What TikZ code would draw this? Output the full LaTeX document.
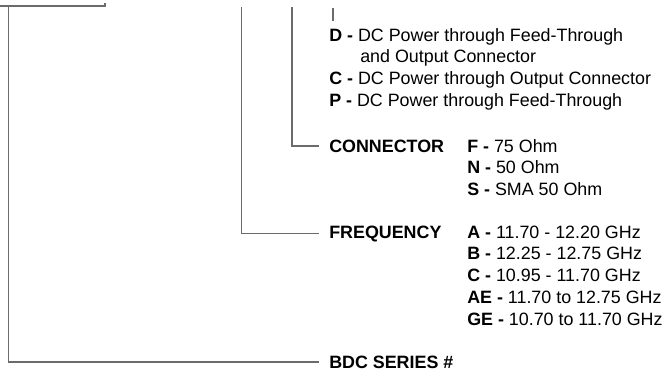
\documentclass[tikz,border=0pt]{standalone}
\usepackage{fontspec}
\setmainfont{Liberation Sans}
\usetikzlibrary{positioning}

\begin{document}
\begin{tikzpicture}[x=0.75pt,y=-0.75pt,
  leader/.style={draw=black!58, line width=1.2pt},
  row/.style={anchor=base west, inner sep=0pt, font=\fontsize{13.4}{16}\selectfont},
  key/.style={row, font=\fontsize{13.4}{16}\selectfont\bfseries}]

\useasboundingbox (0,0) rectangle (662,372);

\def \gap {21.8}  % pitch of the option lists
\def \colkey {329}
\def \colval {467}

% power options
\node[row] (pwr-d) at (\colkey,41) {\textbf{D -} DC Power through Feed-Through};
\node[row] (pwr-d2) at (360,62.5) {and Output Connector};
\node[row] (pwr-c) at (\colkey,84) {\textbf{C -} DC Power through Output Connector};
\node[row] (pwr-p) at (\colkey,106) {\textbf{P -} DC Power through Feed-Through};

% connector options
\node[key] (conn) at (\colkey,152) {CONNECTOR};
\foreach \k/\v [count=\s] in {F/75 Ohm, N/50 Ohm, S/SMA 50 Ohm}
  \node[row] (conn-\s) at (\colval,{152+\gap*(\s-1)}) {\textbf{\k\ -} \v};

% frequency options
\node[key] (freq) at (\colkey,238) {FREQUENCY};
\foreach \k/\v [count=\s] in {A/11.70 - 12.20 GHz, B/12.25 - 12.75 GHz,
    C/10.95 - 11.70 GHz, AE/11.70 to 12.75 GHz, GE/10.70 to 11.70 GHz}
  \node[row] (freq-\s) at (\colval,{238+\gap*(\s-1)}) {\textbf{\k\ -} \v};

\node[key] (bdc) at (\colkey,368) {BDC SERIES \#};

% leader lines
\coordinate (tick) at (105,3);
\coordinate (series-top) at (8.5,6);
\coordinate (freq-top) at (241.5,7);
\coordinate (conn-top) at (292,7);
\coordinate (pwr-top) at (333,8);

\draw[leader] (tick) |- (0,6);
\draw[leader, shorten >=7.5pt] (series-top) |- (bdc);
\draw[leader, shorten >=7.5pt] (freq-top) |- (freq);
\draw[leader, shorten >=7.5pt] (conn-top) |- (conn);
\draw[leader, line width=0.8pt, shorten >=5pt] (pwr-top) -- (pwr-top |- pwr-d.north);
\end{tikzpicture}
\end{document}
